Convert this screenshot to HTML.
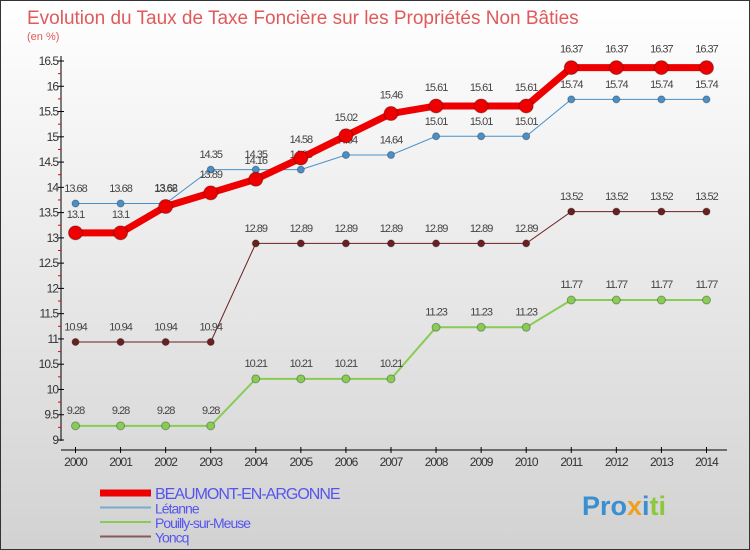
<!DOCTYPE html>
<html><head><meta charset="utf-8"><style>
body{margin:0;width:750px;height:550px;overflow:hidden;font-family:"Liberation Sans",sans-serif}
#c{position:absolute;left:0;top:0;width:748px;height:548px;border:1px solid #333;background:linear-gradient(#ffffff,#d2d2d2)}
</style></head><body>
<div id="c"></div>
<svg id="s" width="750" height="550" style="position:absolute;left:0;top:0">
<text x="27" y="24" font-size="19" fill="#e05a5a">Evolution du Taux de Taxe Foncière sur les Propriétés Non Bâties</text>
<text x="27" y="40" font-size="11" fill="#e05a5a">(en %)</text>
<g id="axes"></g><g id="series"></g><g id="legend"></g>
<text x="582" y="515" font-size="27" font-weight="bold" fill="#3a8fd0">Pro<tspan fill="#f0a020">x</tspan><tspan fill="#3a8fd0">i</tspan><tspan fill="#8cc83c">ti</tspan></text>
</svg>
<script>
const years=[2000,2001,2002,2003,2004,2005,2006,2007,2008,2009,2010,2011,2012,2013,2014];
const yTicks=[9,9.5,10,10.5,11,11.5,12,12.5,13,13.5,14,14.5,15,15.5,16,16.5];
const beaumont=[13.1,13.1,13.62,13.89,14.16,14.58,15.02,15.46,15.61,15.61,15.61,16.37,16.37,16.37,16.37];
const letanne=[13.68,13.68,13.68,14.35,14.35,14.35,14.64,14.64,15.01,15.01,15.01,15.74,15.74,15.74,15.74];
const pouilly=[9.28,9.28,9.28,9.28,10.21,10.21,10.21,10.21,11.23,11.23,11.23,11.77,11.77,11.77,11.77];
const yoncq=[10.94,10.94,10.94,10.94,12.89,12.89,12.89,12.89,12.89,12.89,12.89,13.52,13.52,13.52,13.52];
const NS="http://www.w3.org/2000/svg";
const X=i=>75.5+i*45.07, Y=v=>440-(v-9)*(379/7.5);
function mk(p,t,a,txt){const e=document.createElementNS(NS,t);for(const k in a)e.setAttribute(k,a[k]);if(txt!==undefined)e.textContent=txt;p.appendChild(e);return e;}
const ax=document.getElementById('axes');
let e=mk(ax,'line',{x1:61,y1:56,x2:61,y2:441,stroke:'#000'});

e=mk(ax,'line',{x1:61,y1:450,x2:727,y2:450,stroke:'#000'});

yTicks.forEach((v,i)=>{const y=Y(v);mk(ax,'line',{x1:58,y1:y,x2:64,y2:y,stroke:'#000'});
 if(i<yTicks.length-1)mk(ax,'line',{x1:58,y1:Y(v+0.25),x2:61,y2:Y(v+0.25),stroke:'#e00'});
 const t=mk(ax,'text',{x:58,y:y+4,'font-size':12,'text-anchor':'end',fill:'#333','letter-spacing':'-1'},String(v));
 });
years.forEach((yr,i)=>{mk(ax,'line',{x1:X(i),y1:447,x2:X(i),y2:453,stroke:'#000'});
 const t=mk(ax,'text',{x:X(i),y:466,'font-size':12,'text-anchor':'middle',fill:'#333','letter-spacing':'-1'},String(yr));
 });
const sg=document.getElementById('series');
function series(data,color,w,r,name){const g=mk(sg,'g',{});
 
 mk(g,'polyline',{points:data.map((v,i)=>X(i)+','+Y(v)).join(' '),fill:'none',stroke:color,'stroke-width':w});
 data.forEach((v,i)=>{const c=mk(g,'circle',{cx:X(i),cy:Y(v),r:r,fill:color,stroke:'rgba(0,0,0,0.3)'});
  
  const t=mk(g,'text',{x:X(i),y:Y(v)-(r+8),'font-size':11,'text-anchor':'middle',fill:'#444','letter-spacing':'-1'},String(v));
  });}
series(pouilly,'#88cc55',2,4,'pouilly');
series(yoncq,'#6b2020',1,3.5,'yoncq');
series(letanne,'#4a90c8',1,3.5,'letanne');
series(beaumont,'#ee0000',7,7,'beaumont');
const lg=document.getElementById('legend');
[['BEAUMONT-EN-ARGONNE','#ee0000',7,'legend-beaumont',16],['Létanne','#7aaccc',2,'legend-letanne',14],['Pouilly-sur-Meuse','#88cc55',2,'legend-pouilly',14],['Yoncq','#8a5a5a',2,'legend-yoncq',14]].forEach((d,i)=>{
 const y=493+i*14.5;const g=mk(lg,'g',{});
 
 mk(g,'line',{x1:100,y1:y,x2:151,y2:y,stroke:d[1],'stroke-width':d[2]});
 mk(g,'text',{x:155,y:y+6,'font-size':d[4],fill:'#5555ee','letter-spacing':'-1'},d[0]);});
</script>
</body></html>
